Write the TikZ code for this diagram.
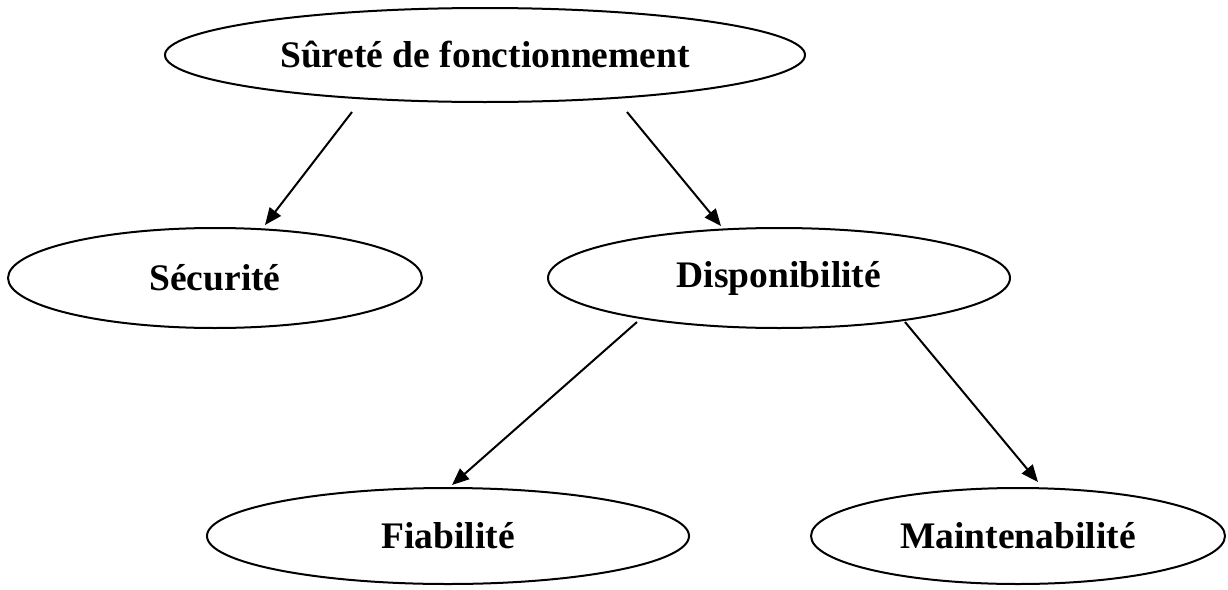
\documentclass[tikz,border=0pt]{standalone}
\usepackage{fontspec}
\setmainfont{Liberation Serif}
\usetikzlibrary{shapes.geometric,arrows.meta,calc}
\begin{document}
\begin{tikzpicture}[x=1pt,y=-1pt,
  oval/.style={draw=black,line width=2pt,ellipse,inner sep=0pt,
    font=\fontsize{37.5}{40}\selectfont\bfseries},
  arr/.style={line width=2pt,-{Triangle[length=17pt,width=14pt]}}]
\useasboundingbox[fill=white] (0,0) rectangle (1228,589);
\node[oval,minimum width=640,minimum height=94] (top) at (485,55) {Sûreté de fonctionnement};
\node[oval,minimum width=414,minimum height=100] (sec) at (215,278) {Sécurité};
\node[oval,minimum width=462,minimum height=100] (dis) at (779,278) {Disponibilité};
\node[oval,minimum width=482,minimum height=96] (fia) at (448,536) {Fiabilité};
\node[oval,minimum width=414,minimum height=96] (mai) at (1018,536) {Maintenabilité};
\draw[arr] ($(top.center)+(-133,57)$) -- ($(sec.center)+(50,-53)$);
\draw[arr] ($(top.center)+(142,57)$) -- ($(dis.center)+(-58,-52)$);
\draw[arr] ($(dis.center)+(-142,44)$) -- ($(fia.center)+(4,-51)$);
\draw[arr] ($(dis.center)+(126,44)$) -- ($(mai.center)+(20,-54)$);
\end{tikzpicture}
\end{document}
